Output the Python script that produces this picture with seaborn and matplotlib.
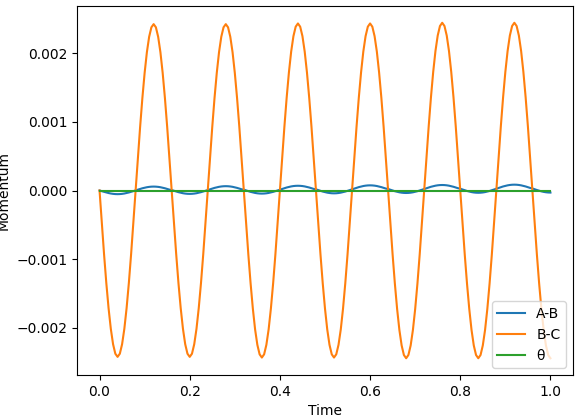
import numpy as np
import pandas as pd
import matplotlib
matplotlib.use("Agg")
import matplotlib.pyplot as plt
import seaborn as sns

# time samples (0 -> 1, step 0.005)
time = np.linspace(0.0, 1.0, 201)

# B-C momentum, one period (32 samples) per line
bc_momentum = [
    0.0, -0.000472, -0.000926, -0.001345, -0.001711, -0.002012, -0.002236, -0.002374,
    -0.00242, -0.002374, -0.002236, -0.002012, -0.001711, -0.001345, -0.000926, -0.000472,
    0.0, 0.000472, 0.000926, 0.001345, 0.001711, 0.002012, 0.002236, 0.002374,
    0.00242, 0.002374, 0.002236, 0.002012, 0.001711, 0.001345, 0.000926, 0.000472,
    0.0, -0.000472, -0.000926, -0.001345, -0.001711, -0.002012, -0.002236, -0.002374,
    -0.00242, -0.002374, -0.002236, -0.002012, -0.001711, -0.001345, -0.000926, -0.000472,
    0.0, 0.000472, 0.000926, 0.001345, 0.001711, 0.002012, 0.002236, 0.002374,
    0.00242, 0.002374, 0.002236, 0.002012, 0.001711, 0.001345, 0.000926, 0.000472,
    0.0, -0.000474, -0.00093, -0.00135, -0.001718, -0.002021, -0.002245, -0.002383,
    -0.00243, -0.002383, -0.002245, -0.002021, -0.001718, -0.00135, -0.00093, -0.000474,
    0.0, 0.000474, 0.00093, 0.00135, 0.001718, 0.002021, 0.002245, 0.002383,
    0.00243, 0.002383, 0.002245, 0.002021, 0.001718, 0.00135, 0.00093, 0.000474,
    0.0, -0.000474, -0.00093, -0.00135, -0.001718, -0.002021, -0.002245, -0.002383,
    -0.00243, -0.002383, -0.002245, -0.002021, -0.001718, -0.00135, -0.00093, -0.000474,
    0.0, 0.000474, 0.00093, 0.00135, 0.001718, 0.002021, 0.002245, 0.002383,
    0.00243, 0.002383, 0.002245, 0.002021, 0.001718, 0.00135, 0.00093, 0.000474,
    0.0, -0.000476, -0.000934, -0.001356, -0.001725, -0.002029, -0.002254, -0.002393,
    -0.00244, -0.002393, -0.002254, -0.002029, -0.001725, -0.001356, -0.000934, -0.000476,
    0.0, 0.000476, 0.000934, 0.001356, 0.001725, 0.002029, 0.002254, 0.002393,
    0.00244, 0.002393, 0.002254, 0.002029, 0.001725, 0.001356, 0.000934, 0.000476,
    0.0, -0.000476, -0.000934, -0.001356, -0.001725, -0.002029, -0.002254, -0.002393,
    -0.00244, -0.002393, -0.002254, -0.002029, -0.001725, -0.001356, -0.000934, -0.000476,
    0.0, 0.000476, 0.000934, 0.001356, 0.001725, 0.002029, 0.002254, 0.002393,
    0.00244, 0.002393, 0.002254, 0.002029, 0.001725, 0.001356, 0.000934, 0.000476,
    0.0, -0.000476, -0.000934, -0.001356, -0.001725, -0.002029, -0.002254, -0.002393,
    -0.00244,
]

# A-B momentum, in units of 1e-6 (small wobble around zero)
ab_momentum_micro = [
    0, -8.7, -19.0, -28.6, -36.9, -43.7, -48.8, -51.9,
    -53, -51.9, -48.8, -43.7, -36.9, -28.6, -19.0, -8.7,
    2, 12.7, 23.0, 32.6, 40.9, 47.7, 52.8, 55.9,
    57, 55.9, 52.8, 47.7, 40.9, 32.6, 23.0, 12.7,
    7, -3.9, -14.4, -24.1, -32.6, -39.6, -44.7, -47.9,
    -49, -47.9, -44.7, -39.6, -32.6, -24.1, -14.4, -3.9,
    7, 17.9, 28.4, 38.1, 46.6, 53.6, 58.7, 61.9,
    63, 61.9, 58.7, 53.6, 46.6, 38.1, 28.4, 17.9,
    12, 0.9, -9.8, -19.7, -28.3, -35.4, -40.7, -43.9,
    -45, -43.9, -40.7, -35.4, -28.3, -19.7, -9.8, 0.9,
    12, 23.1, 33.8, 43.7, 52.3, 59.4, 64.7, 67.9,
    69, 67.9, 64.7, 59.4, 52.3, 43.7, 33.8, 23.1,
    17, 5.7, -5.2, -15.2, -24.0, -31.2, -36.6, -39.9,
    -41, -39.9, -36.6, -31.2, -24.0, -15.2, -5.2, 5.7,
    17, 28.3, 39.2, 49.2, 58.0, 65.2, 70.6, 73.9,
    75, 73.9, 70.6, 65.2, 58.0, 49.2, 39.2, 28.3,
    22, 10.7, -0.2, -10.2, -19.0, -26.2, -31.6, -34.9,
    -36, -34.9, -31.6, -26.2, -19.0, -10.2, -0.2, 10.7,
    22, 33.3, 44.2, 54.2, 63.0, 70.2, 75.6, 78.9,
    80, 78.9, 75.6, 70.2, 63.0, 54.2, 44.2, 33.3,
    26, 14.5, 3.4, -6.8, -15.7, -23.0, -28.5, -31.9,
    -33, -31.9, -28.5, -23.0, -15.7, -6.8, 3.4, 14.5,
    26, 37.5, 48.6, 58.8, 67.7, 75.0, 80.5, 83.9,
    85, 83.9, 80.5, 75.0, 67.7, 58.8, 48.6, 37.5,
    30, 18.3, 7.0, -3.3, -12.4, -19.9, -25.4, -28.8,
    -30,
]

# theta stays flat on zero the whole run
theta_time = [0.0, 1.0]
theta_momentum = [0.0, 0.0]

df = pd.DataFrame({
    "Time": time,
    "A-B": np.array(ab_momentum_micro) * 1e-6,
    "B-C": bc_momentum,
})

fig, ax = plt.subplots(figsize=(5.82, 4.17), dpi=100)
fig.subplots_adjust(left=0.1323, right=0.9845, top=0.9856, bottom=0.1007)

sns.lineplot(data=df, x="Time", y="A-B", label="A-B", color="C0", ax=ax)
sns.lineplot(data=df, x="Time", y="B-C", label="B-C", color="C1", ax=ax)
sns.lineplot(x=theta_time, y=theta_momentum, label="θ", color="C2", ax=ax)

ax.set_xlabel("Time")
ax.set_ylabel("Momentum")
ax.legend(loc="lower right")

fig.savefig("out.png", dpi=100)
